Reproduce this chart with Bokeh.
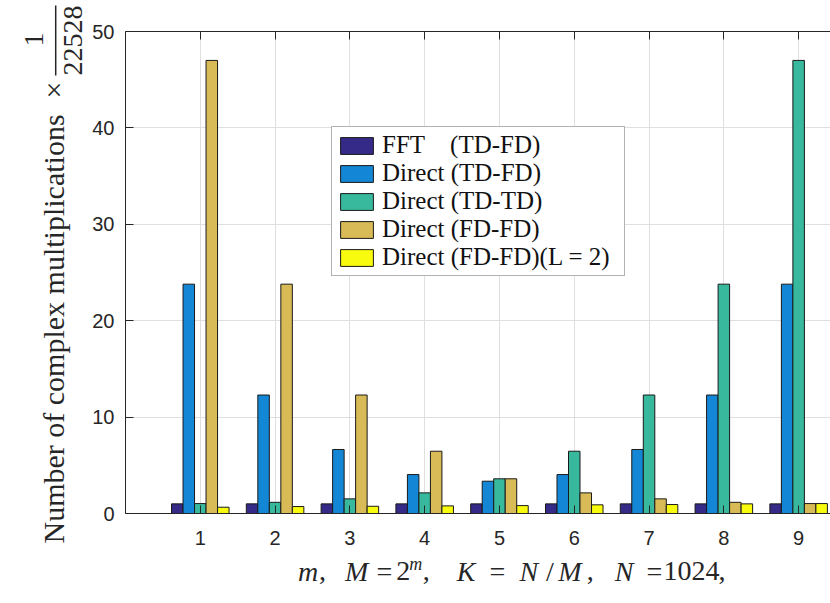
import math
from bokeh.plotting import figure
from bokeh.layouts import row, column
from bokeh.models import Range1d, FixedTicker, LinearAxis
from bokeh.core.properties import value
from bokeh.embed import file_html
from bokeh.resources import INLINE

# ---- data ----
m_values = [1, 2, 3, 4, 5, 6, 7, 8, 9]
fft_td_fd = [1.0, 1.0, 1.0, 1.0, 1.0, 1.0, 1.0, 1.0, 1.0]
direct_td_fd = [23.79, 12.29, 6.64, 4.04, 3.35, 4.04, 6.64, 12.29, 23.79]
direct_td_td = [1.03, 1.16, 1.52, 2.14, 3.60, 6.46, 12.29, 23.79, 47.0]
direct_fd_fd = [47.0, 23.79, 12.29, 6.46, 3.60, 2.14, 1.52, 1.16, 1.03]
direct_fd_fd_l2 = [0.65, 0.72, 0.75, 0.79, 0.82, 0.90, 0.93, 1.00, 1.03]
series_labels = [
    "FFT\u00a0\u00a0\u00a0\u00a0(TD-FD)",
    "Direct (TD-FD)",
    "Direct (TD-TD)",
    "Direct (FD-FD)",
    "Direct (FD-FD)(L = 2)",
]
y_ticks = [0, 10, 20, 30, 40, 50]

colors = ["#352a87", "#1486d6", "#38b99e", "#d8ba56", "#f9fb0e"]
series = [fft_td_fd, direct_td_fd, direct_td_td, direct_fd_fd, direct_fd_fd_l2]

AX = "#262626"
SERIF = "Liberation Serif"
MID = 0.3375            # canvas "middle" baseline above the alphabetic one (em)

W, H = 830, 603
LW = 89                  # width of left label strip
MH = 553                 # height of main chart figure
FL, FT, FB = 124, 31, 513  # frame left / top / bottom (page px)
XMAX, YMAX = 9.426, 50.0

# ---------------- main chart ----------------
p = figure(width=W - LW, height=MH, x_range=Range1d(0, XMAX), y_range=Range1d(0, YMAX),
           output_backend="svg", toolbar_location=None,
           min_border_left=FL - LW, min_border_right=0, min_border_top=FT,
           min_border_bottom=MH - FB)
p.outline_line_color = None
p.background_fill_color = "white"
p.border_fill_color = "white"

p.xgrid.ticker = FixedTicker(ticks=m_values)
p.ygrid.ticker = FixedTicker(ticks=y_ticks)
for g in (p.xgrid[0], p.ygrid[0]):
    g.grid_line_color = "#dfdfdf"
    g.grid_line_width = 1

bottom_axis = p.below[0]
left_axis = p.left[0]
bottom_axis.ticker = FixedTicker(ticks=m_values)
left_axis.ticker = FixedTicker(ticks=y_ticks)
top_axis = LinearAxis(ticker=FixedTicker(ticks=m_values))
p.add_layout(top_axis, "above")
for ax in [bottom_axis, left_axis, top_axis]:
    ax.major_tick_in = 8
    ax.major_tick_out = 0
    ax.minor_tick_in = 0
    ax.minor_tick_out = 0
    ax.axis_line_color = AX
    ax.axis_line_width = 1
    ax.major_tick_line_color = AX
    ax.major_tick_line_width = 1
    ax.major_label_text_font = "Liberation Sans"
    ax.major_label_text_font_size = "20px"
    ax.major_label_text_color = AX
bottom_axis.major_label_standoff = 17
left_axis.major_label_standoff = 11
top_axis.major_label_text_color = None
top_axis.major_label_text_font_size = "8px"
top_axis.major_label_standoff = 0

group_w = 5 / 6.5
w = group_w / 5
for i, (vals, col, lab) in enumerate(zip(series, colors, series_labels)):
    xs = [m + (i - 2) * w for m in m_values]
    p.vbar(x=xs, top=vals, bottom=0, width=w, fill_color=col,
           line_color="#1a1a1a", line_width=1, legend_label=lab)

lg = p.legend[0]
lg.location = (206, 237)
lg.label_text_font = SERIF
lg.label_text_font_size = "25px"
lg.label_text_color = "#111111"
lg.glyph_width = 41
lg.glyph_height = 21
lg.label_height = 21
lg.label_width = 238
lg.label_standoff = 5
lg.spacing = 0
lg.padding = 4
lg.margin = 0
lg.border_line_color = "#666666"
lg.border_line_width = 1
lg.background_fill_color = "white"
lg.background_fill_alpha = 1.0


# ---------------- label strips ----------------
def strip(width, height):
    f = figure(width=width, height=height, x_range=Range1d(0, width), y_range=Range1d(0, height),
               output_backend="svg", toolbar_location=None, x_axis_type=None, y_axis_type=None,
               title=None, min_border=0, min_border_left=0, min_border_right=0,
               min_border_top=0, min_border_bottom=0)
    f.outline_line_color = None
    f.xgrid.visible = False
    f.ygrid.visible = False
    f.background_fill_color = "white"
    f.border_fill_color = "white"
    return f


def txt(f, text, x, y, size_px, italic=False, angle=0.0, align="center"):
    f.text(x=[x], y=[y], text=[text], angle=angle,
           text_font=value(SERIF), text_font_size=value(f"{size_px}px"),
           text_font_style=value("italic" if italic else "normal"),
           text_align=value(align), text_baseline=value("middle"),
           text_color=AX)


# left strip: y label, rotated; baseline x positions converted to "middle" anchors
ly = strip(LW, H)
txt(ly, "Number of complex multiplications", 63.5 - MID * 30, H - 543, 30, False, math.pi / 2, "left")
txt(ly, "\u00d7", 63.5 - MID * 30, H - 89.5, 30, False, math.pi / 2, "center")
txt(ly, "1", 43.3 - MID * 28, H - 39, 28, False, math.pi / 2, "center")
txt(ly, "22528", 81.5 - MID * 28, H - 40, 28, False, math.pi / 2, "center")
ly.segment(x0=[55.2], y0=[H - 5], x1=[55.2], y1=[H - 75], line_color=AX, line_width=1.5)

# bottom strip: x label  m,  M = 2^m,  K = N/M,  N = 1024,
XH = H - MH
lx = strip(W - LW, XH)
BASE = 580.0
XS = 28
xl = [("m", 281, True), (",", 296, False), ("M", 332, True), ("=", 361, False),
      ("2", 381, False), (",", 405, False), ("K", 447, True), ("=", 480, False),
      ("N", 513, True), ("/", 535, False), ("M", 556, True), (",", 577.5, False),
      ("N", 613, True), ("=", 645, False), ("1024", 684, False), (",", 716, False)]
for t, px, it in xl:
    txt(lx, t, px - LW, H - (BASE - MID * XS), XS, it)
txt(lx, "m", 394 - LW, H - (570.0 - MID * 18), 18, True)

layout = row(ly, column(p, lx, spacing=0), spacing=0)
open("out.html", "w").write(file_html(layout, INLINE))
